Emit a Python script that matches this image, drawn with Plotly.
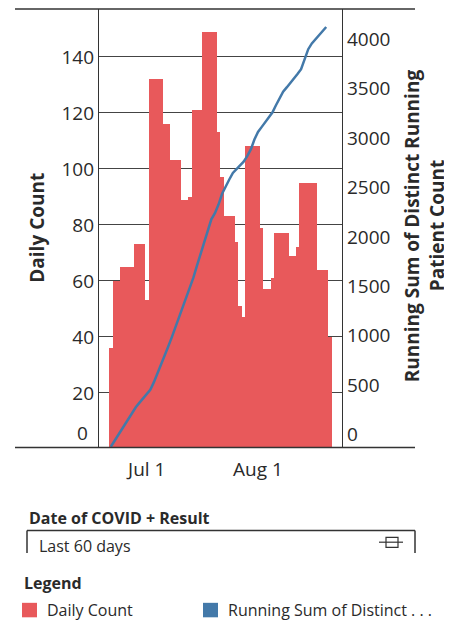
import plotly.graph_objects as go
import pandas as pd

# ---------------- data ----------------
start_date = "2020-06-21"
daily_count = [36, 60, 60, 65, 65, 65, 65, 73, 73, 73, 53, 132, 132, 132, 132, 116,
               116, 103, 103, 103, 89, 89, 90, 121, 121, 121, 149, 149, 149, 149,
               113, 97, 83, 83, 83, 74, 51, 47, 108, 108, 108, 108, 79, 57, 57, 61,
               77, 77, 77, 77, 69, 69, 72, 95, 95, 95, 95, 95, 64, 64, 64, 40]
running_sum = [8, 67, 124, 183, 240, 299, 358, 410, 454, 498, 541, 585, 662, 748,
               833, 929, 1023, 1118, 1215, 1312, 1409, 1506, 1603, 1719, 1841, 1962,
               2083, 2204, 2311, 2372, 2460, 2569, 2648, 2714, 2780, 2819, 2856, 2894,
               2950, 3018, 3118, 3195, 3244, 3292, 3342, 3392, 3465, 3538, 3603, 3646,
               3689, 3734, 3782, 3831, 3928, 4033, 4092, 4136, 4177, 4218, 4258]
left_ticks = [0, 20, 40, 60, 80, 100, 120, 140]
right_ticks = [0, 500, 1000, 1500, 2000, 2500, 3000, 3500, 4000]
x_tick_dates = ["2020-07-01", "2020-08-01"]
x_tick_labels = ["Jul 1", "Aug 1"]

dates = pd.date_range(start_date, periods=len(daily_count))
line_dates = dates[:len(running_sum)]

# ---------------- layout geometry (page pixel coords) ----------------
OFF = 8                      # default page body margin
PAGE_W, PAGE_H = 452, 623
W, H = PAGE_W - OFF, PAGE_H - OFF
L, R, T, B = 99, 342, 8.5, 448
PW, PH = R - L, B - T
FONT = "Open Sans"
TXT = "#2a2a2a"
RED = "#E8595B"
BLUE = "#4379A9"


def px(x):
    return (x - L) / PW


def py(y):
    return (B - y) / PH


start = pd.Timestamp(start_date)
x_range = [start - pd.Timedelta(days=3.29), start + pd.Timedelta(days=64.4)]

fig = go.Figure()
fig.add_trace(go.Bar(x=dates, y=daily_count, marker=dict(color=RED, line=dict(width=0)),
                     name="Daily Count", showlegend=False))
fig.add_trace(go.Scatter(x=line_dates, y=running_sum, yaxis="y2", mode="lines",
                         line=dict(color=BLUE, width=2.5),
                         name="Running Sum of Distinct Running Patient Count",
                         showlegend=False))

shapes = []
line_col = "#333333"
# top and bottom rules spanning wider than plot
for yy in (T, B - 0.5):
    shapes.append(dict(type="line", xref="paper", yref="paper", x0=px(15), x1=px(415),
                       y0=py(yy), y1=py(yy), line=dict(color=line_col, width=1.3)))
# filter box
shapes.append(dict(type="line", xref="paper", yref="paper", x0=px(27), x1=px(415),
                   y0=py(530.7), y1=py(530.7), line=dict(color=line_col, width=1.5)))
for xx in (27, 415):
    shapes.append(dict(type="line", xref="paper", yref="paper", x0=px(xx), x1=px(xx),
                       y0=py(530.7), y1=py(553), line=dict(color=line_col, width=1.5)))
# slider icon
shapes.append(dict(type="line", xref="paper", yref="paper", x0=px(379), x1=px(403),
                   y0=py(542.3), y1=py(542.3), line=dict(color=line_col, width=1.2)))
shapes.append(dict(type="rect", xref="paper", yref="paper", x0=px(386), x1=px(398),
                   y0=py(537.5), y1=py(547.5), line=dict(color=line_col, width=1.2),
                   fillcolor="rgba(0,0,0,0)"))
# legend squares
shapes.append(dict(type="rect", xref="paper", yref="paper", x0=px(22), x1=px(37),
                   y0=py(603), y1=py(617.5), line=dict(width=0), fillcolor=RED))
shapes.append(dict(type="rect", xref="paper", yref="paper", x0=px(203), x1=px(218),
                   y0=py(603), y1=py(617.5), line=dict(width=0), fillcolor=BLUE))

annotations = [
    dict(text="<b>Daily Count</b>", x=px(37.5), y=py(228), textangle=-90,
         font=dict(size=19, family=FONT, color=TXT)),
    dict(text="<b>Running Sum of Distinct Running</b>", x=px(412), y=py(226),
         textangle=-90, font=dict(size=19, family=FONT, color=TXT)),
    dict(text="<b>Patient Count</b>", x=px(437), y=py(226),
         textangle=-90, font=dict(size=19, family=FONT, color=TXT)),
    dict(text="0", x=px(90), y=py(433), xanchor="right",
         font=dict(size=19, family=FONT, color=TXT)),
    dict(text="<b>Date of COVID + Result</b>", x=px(27), y=py(518), xanchor="left",
         font=dict(size=16, family=FONT, color=TXT)),
    dict(text="Last 60 days", x=px(37), y=py(546.5), xanchor="left",
         font=dict(size=16, family=FONT, color=TXT)),
    dict(text="<b>Legend</b>", x=px(22), y=py(583), xanchor="left",
         font=dict(size=16, family=FONT, color=TXT)),
    dict(text="Daily Count", x=px(45), y=py(610.5), xanchor="left",
         font=dict(size=16, family=FONT, color=TXT)),
    dict(text="Running Sum of Distinct . . .", x=px(226), y=py(610.5), xanchor="left",
         font=dict(size=16, family=FONT, color=TXT)),
]
for a in annotations:
    a.update(xref="paper", yref="paper", showarrow=False, yanchor="middle")
    a.setdefault("xanchor", "center")

fig.update_layout(
    width=W, height=H,
    margin=dict(l=L - OFF, r=PAGE_W - R, t=T - OFF, b=PAGE_H - B, pad=0),
    paper_bgcolor="white", plot_bgcolor="white",
    bargap=0,
    showlegend=False,
    font=dict(family=FONT, color=TXT),
    xaxis=dict(type="date", range=x_range, tickvals=x_tick_dates, ticktext=x_tick_labels,
               showgrid=False, zeroline=False, showline=False, ticks="",
               ticklabelstandoff=8,
               tickfont=dict(size=19, family=FONT, color=TXT)),
    yaxis=dict(range=[0.3, 157.1], tickvals=left_ticks,
               ticktext=[""] + [str(v) for v in left_ticks[1:]],
               showgrid=True, gridcolor="#444444", gridwidth=1, zeroline=False,
               showline=True, linecolor=line_col, linewidth=1.3, ticks="",
               tickfont=dict(size=19, family=FONT, color=TXT)),
    yaxis2=dict(range=[-5, 4440], overlaying="y", side="right", tickvals=right_ticks,
                showgrid=False, zeroline=False, showline=True, linecolor=line_col,
                linewidth=1.3, ticks="", ticklabelshift=-13,
                tickfont=dict(size=19, family=FONT, color=TXT)),
    shapes=shapes,
    annotations=annotations,
)

fig.write_html("out.html")
